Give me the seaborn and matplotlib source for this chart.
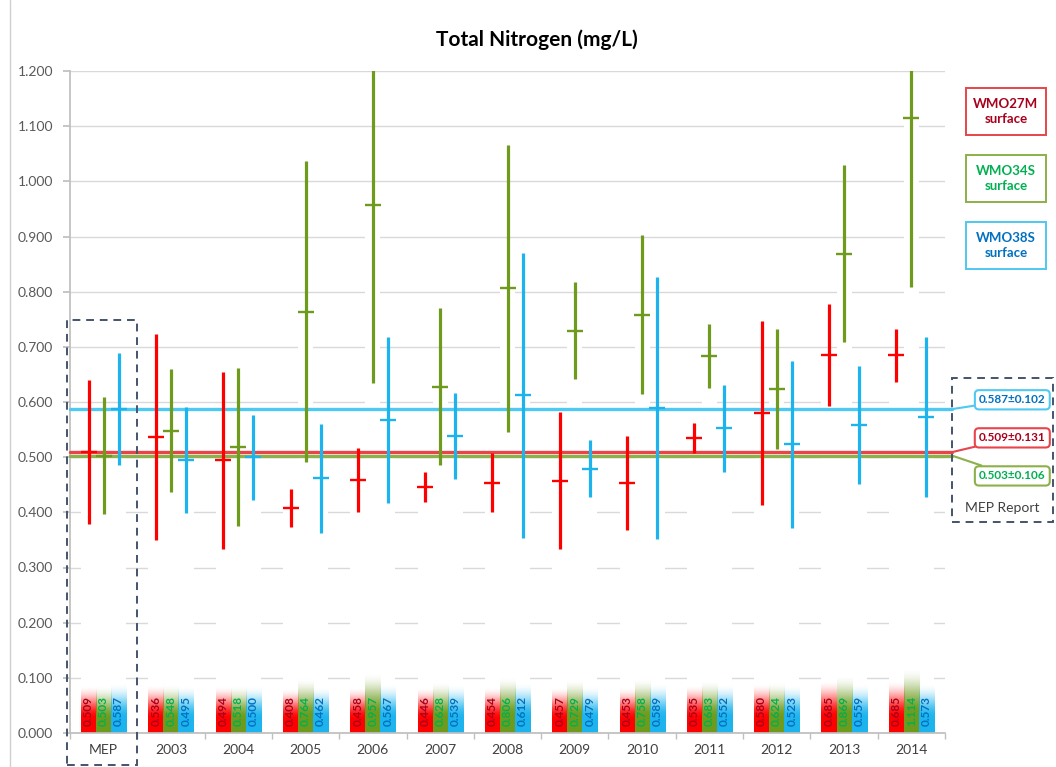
import numpy as np
import pandas as pd
import seaborn as sns
import matplotlib.pyplot as plt
from matplotlib.patches import Rectangle
from matplotlib.lines import Line2D
from matplotlib.ticker import FormatStrFormatter
from matplotlib.colors import to_rgb

# data (mean +/- sd, mg/L)
categories = ['MEP', '2003', '2004', '2005', '2006', '2007', '2008',
              '2009', '2010', '2011', '2012', '2013', '2014']
stations = ['WMO27M', 'WMO34S', 'WMO38S']

mean_27m = [0.509, 0.536, 0.494, 0.408, 0.458, 0.446, 0.454, 0.457, 0.453, 0.535, 0.580, 0.685, 0.685]
mean_34s = [0.503, 0.548, 0.518, 0.764, 0.957, 0.628, 0.806, 0.729, 0.758, 0.683, 0.624, 0.869, 1.114]
mean_38s = [0.587, 0.495, 0.500, 0.462, 0.567, 0.539, 0.612, 0.479, 0.589, 0.552, 0.523, 0.559, 0.573]

sd_27m = [0.131, 0.187, 0.160, 0.034, 0.058, 0.028, 0.053, 0.124, 0.085, 0.027, 0.167, 0.092, 0.048]
sd_34s = [0.106, 0.112, 0.143, 0.273, 0.323, 0.143, 0.260, 0.088, 0.144, 0.058, 0.109, 0.161, 0.306]
sd_38s = [0.102, 0.096, 0.077, 0.099, 0.150, 0.078, 0.258, 0.052, 0.237, 0.079, 0.151, 0.107, 0.145]

# MEP report reference values
mep_mean = [0.509, 0.503, 0.587]
mep_sd = [0.131, 0.106, 0.102]

colors = {'WMO27M': '#FF0000', 'WMO34S': '#6E9B1E', 'WMO38S': '#1DB4EE'}
text_colors = {'WMO27M': '#A8001C', 'WMO34S': '#00B050', 'WMO38S': '#0070C0'}
line_colors = {'WMO27M': '#E8444A', 'WMO34S': '#8CB04A', 'WMO38S': '#4FC8F2'}

df = pd.DataFrame({
    'cat': categories * 3,
    'station': np.repeat(stations, len(categories)),
    'mean': mean_27m + mean_34s + mean_38s,
    'sd': sd_27m + sd_34s + sd_38s,
})

sns.set_theme(style='white')
plt.rcParams['font.family'] = ['Lato', 'DejaVu Sans']

W, H = 1056, 767
fig = plt.figure(figsize=(W / 100, H / 100), dpi=100)
ax = fig.add_axes([70 / W, 34 / H, 875 / W, 662 / H])

sns.barplot(data=df, x='cat', y='mean', hue='station', hue_order=stations,
            palette=colors, width=0.67, errorbar=None, legend=False, ax=ax, zorder=2)

# bars: white body with a colour fade at the base (hides the grid like the original)
bars = sorted(ax.patches, key=lambda p: p.get_x())
for i, p in enumerate(bars):
    st = stations[i % 3]
    row = df[(df.station == st) & (df.cat == categories[i // 3])].iloc[0]
    x0, w, h = p.get_x(), p.get_width(), p.get_height()
    n = 300
    yy = np.linspace(0, h, n)
    fe = 0.06 + 0.05 * h
    t = np.clip((yy - 0.3 * fe) / (0.7 * fe), 0, 1)
    a = 1 - t * t * (3 - 2 * t)
    rgba = np.zeros((n, 1, 4))
    rgba[..., :3] = to_rgb(colors[st])
    rgba[:, 0, 3] = a
    ax.imshow(rgba, extent=[x0, x0 + w, 0, h], origin='lower', aspect='auto',
              zorder=2.2, interpolation='bilinear')
    p.set_facecolor('white')
    p.set_edgecolor('none')
    ax.text(x0 + w / 2, 0.013, f"{row['mean']:.3f}", rotation=90, ha='center', va='bottom',
            color=text_colors[st], fontsize=8.5, fontweight='bold', zorder=5)

# error bars (mean +/- sd) at the bar centres
for k, st in enumerate(stations):
    xs = [bars[i].get_x() + bars[i].get_width() / 2 for i in range(k, len(bars), 3)]
    sub = df[df.station == st]
    ax.errorbar(xs, sub['mean'], yerr=sub['sd'], fmt='_', color=colors[st], ecolor=colors[st],
                elinewidth=2.3, markersize=11, markeredgewidth=1.7, capsize=0, zorder=4)

ax.set_xlim(-0.5, 12.5)
ax.set_ylim(0, 1.2)

# MEP report reference lines + callouts
callout_y = {'WMO27M': 0.535, 'WMO34S': 0.466, 'WMO38S': 0.604}
for st, m, s in zip(stations, mep_mean, mep_sd):
    ax.plot([-0.5, 12.6], [m, m], color=line_colors[st], lw=2.4, zorder=3, clip_on=False)
    ax.annotate(f'{m:.3f}±{s:.3f}', xy=(12.6, m), xytext=(13.5, callout_y[st]),
                ha='center', va='center', color=text_colors[st], fontsize=8.5, fontweight='bold',
                bbox=dict(boxstyle='round,pad=0.35', fc='white', ec=line_colors[st], lw=1.5),
                arrowprops=dict(arrowstyle='-', color=line_colors[st], lw=1.5, shrinkA=0, shrinkB=0),
                annotation_clip=False, zorder=6)

# dashed boxes
ax.add_patch(Rectangle((-0.545, -0.058), 1.045, 0.807, fill=False, ec='#44546A', lw=1.4,
                       ls=(0, (4, 3)), clip_on=False, zorder=6))
ax.add_patch(Rectangle((12.6, 0.382), 1.5, 0.261, fill=False, ec='#44546A', lw=1.4,
                       ls=(0, (4, 3)), clip_on=False, zorder=6))
ax.text(13.35, 0.408, 'MEP Report', ha='center', va='center', color='#404040', fontsize=10)

# axes styling
ax.set_yticks(np.arange(0, 1.21, 0.1))
ax.yaxis.set_major_formatter(FormatStrFormatter('%.3f'))
ax.grid(axis='y', color='#D9D9D9', lw=1)
ax.set_axisbelow(True)
ax.set_xlabel('')
ax.set_ylabel('')
for side in ['top', 'right']:
    ax.spines[side].set_visible(False)
for side in ['left', 'bottom']:
    ax.spines[side].set_color('#BFBFBF')
ax.tick_params(axis='y', left=True, length=5, color='#BFBFBF', pad=7, labelsize=10, labelcolor='#595959')
ax.tick_params(axis='x', length=0, pad=8, labelsize=10, labelcolor='#404040')
ax.set_xticks(np.arange(-0.5, 13, 1), minor=True)
ax.tick_params(axis='x', which='minor', bottom=True, length=4, color='#BFBFBF')

# station legend boxes on the right
legend_tops = [88, 155, 222]
for st, top in zip(stations, legend_tops):
    fig.add_artist(Rectangle((966 / W, 1 - (top + 47) / H), 80 / W, 47 / H, transform=fig.transFigure,
                             fill=False, ec=line_colors[st], lw=1.4))
    fig.text(1006 / W, 1 - (top + 23.5) / H, f'{st}\nsurface', ha='center', va='center',
             fontsize=9.5, fontweight='bold', color=text_colors[st], linespacing=1.3)

fig.text(537 / W, 1 - 40 / H, 'Total Nitrogen (mg/L)', ha='center', va='center',
         fontsize=15, fontweight='bold', color='black')
fig.add_artist(Line2D([10 / W, 10 / W], [0, 1], color='#D0D0D0', lw=1, transform=fig.transFigure))

fig.savefig('out.png', dpi=100)
